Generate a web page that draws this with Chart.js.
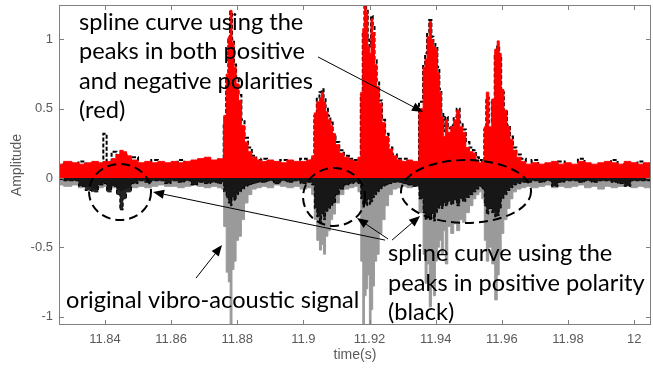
<!DOCTYPE html>
<html>
<head>
<meta charset="utf-8">
<script src="https://cdn.jsdelivr.net/npm/chart.js@4/dist/chart.umd.min.js"></script>
<style>
  html, body { margin: 0; padding: 0; background: #fff; }
</style>
</head>
<body>
<canvas id="myChart" width="653" height="371"></canvas>
<script>
// sample times (s), denser around the bursts
const time = [
  11.826, 11.829, 11.831, 11.833, 11.835, 11.837, 11.839, 11.840, 11.841, 11.843, 11.844, 11.845, 11.846, 11.847,
  11.849, 11.851, 11.853, 11.855, 11.857, 11.859, 11.861, 11.863, 11.865, 11.867, 11.869, 11.871, 11.873, 11.875,
  11.8755, 11.8763, 11.8770, 11.8776, 11.8781, 11.8787, 11.8793, 11.8800, 11.8808, 11.8817, 11.8827, 11.8838, 11.8850, 11.8865,
  11.888, 11.890, 11.892, 11.894, 11.896, 11.898, 11.900, 11.902,
  11.9030, 11.9036, 11.9045, 11.9052, 11.9058, 11.9064, 11.9070, 11.9078, 11.9085, 11.9092, 11.9102, 11.9115, 11.9130, 11.9145, 11.9160,
  11.9170, 11.9177, 11.9182, 11.9187, 11.9192, 11.9197, 11.9202, 11.9207, 11.9212, 11.9218, 11.9225, 11.9233, 11.9242, 11.9252, 11.9263, 11.9275, 11.9290,
  11.9305, 11.9320, 11.9340,
  11.9359, 11.9365, 11.9371, 11.9377, 11.9384, 11.9390, 11.9396, 11.9402, 11.9408, 11.9414,
  11.9420, 11.9426, 11.9432, 11.9441, 11.9450, 11.9459, 11.9468, 11.9477, 11.9486, 11.9496,
  11.9508, 11.9517, 11.9526, 11.9535, 11.9544, 11.9550, 11.9556, 11.9565, 11.9574, 11.9583,
  11.9589, 11.9595, 11.9601, 11.9611, 11.9620, 11.9629, 11.9638, 11.9650, 11.9665,
  11.968, 11.970, 11.972, 11.974, 11.976, 11.978, 11.980, 11.982, 11.984, 11.986,
  11.988, 11.990, 11.992, 11.994, 11.996, 11.998, 12.000, 12.002, 12.004, 12.006
];
// red: spline through peaks of both polarities
const redEnv = [
  0.10, 0.12, 0.11, 0.10, 0.11, 0.12, 0.11, 0.12, 0.12, 0.14, 0.17, 0.20, 0.19, 0.16,
  0.13, 0.11, 0.12, 0.11, 0.12, 0.11, 0.12, 0.11, 0.12, 0.13, 0.14, 0.15, 0.13, 0.14,
  0.14, 0.45, 0.75, 1.02, 1.21, 0.98, 0.80, 0.68, 0.56, 0.38, 0.26, 0.19, 0.15, 0.13,
  0.12, 0.13, 0.12, 0.11, 0.13, 0.12, 0.12, 0.13,
  0.16, 0.47, 0.55, 0.58, 0.62, 0.55, 0.48, 0.42, 0.38, 0.32, 0.24, 0.18, 0.15, 0.13, 0.12,
  0.15, 0.62, 1.08, 1.26, 1.20, 0.95, 0.90, 1.15, 1.05, 0.82, 0.66, 0.54, 0.40, 0.30, 0.21, 0.16, 0.13,
  0.12, 0.13, 0.12,
  0.50, 0.80, 0.86, 1.02, 1.13, 1.00, 0.95, 0.93, 0.76, 0.62,
  0.44, 0.30, 0.42, 0.33, 0.37, 0.42, 0.49, 0.37, 0.33, 0.22,
  0.19, 0.18, 0.13, 0.11, 0.12, 0.37, 0.62, 0.37, 0.57, 0.93,
  0.99, 0.90, 0.64, 0.49, 0.37, 0.28, 0.20, 0.15, 0.12,
  0.10, 0.11, 0.10, 0.11, 0.12, 0.10, 0.11, 0.10, 0.12, 0.11,
  0.10, 0.11, 0.12, 0.11, 0.10, 0.12, 0.11, 0.10, 0.11, 0.10
];
// gray: original vibro-acoustic signal (negative side visible)
const graySig = [
  -0.05, -0.06, -0.05, -0.07, -0.06, -0.08, -0.07, -0.06, -0.08, -0.07, -0.08, -0.09, -0.08, -0.07,
  -0.07, -0.06, -0.07, -0.06, -0.05, -0.06, -0.06, -0.07, -0.06, -0.05, -0.06, -0.07, -0.06, -0.07,
  -0.08, -0.35, -0.68, -0.75, -1.10, -0.66, -0.60, -0.45, -0.42, -0.30, -0.18, -0.12, -0.08, -0.07,
  -0.06, -0.07, -0.05, -0.06, -0.07, -0.06, -0.08, -0.07,
  -0.12, -0.30, -0.45, -0.52, -0.48, -0.55, -0.42, -0.38, -0.30, -0.26, -0.18, -0.12, -0.08, -0.07, -0.06,
  -0.10, -0.60, -1.10, -0.85, -0.80, -0.70, -1.10, -0.95, -0.78, -0.60, -0.55, -0.40, -0.30, -0.20, -0.12, -0.08, -0.07,
  -0.06, -0.07, -0.06,
  -0.25, -0.55, -0.76, -0.62, -0.93, -0.75, -0.85, -0.60, -0.50, -0.45,
  -0.55, -0.38, -0.62, -0.35, -0.40, -0.33, -0.38, -0.30, -0.32, -0.25,
  -0.20, -0.15, -0.12, -0.10, -0.15, -0.45, -0.60, -0.50, -0.62, -0.88,
  -0.70, -0.55, -0.40, -0.30, -0.22, -0.15, -0.10, -0.08, -0.07,
  -0.06, -0.07, -0.06, -0.05, -0.07, -0.06, -0.07, -0.06, -0.05, -0.07,
  -0.06, -0.08, -0.06, -0.07, -0.06, -0.05, -0.07, -0.06, -0.07, -0.06
];
// black: spline through positive peaks, upper edge
const blackTop = [
  0.08, 0.10, 0.09, 0.12, 0.09, 0.10, 0.09, 0.32, 0.10, 0.19, 0.15, 0.18, 0.17, 0.14,
  0.15, 0.09, 0.10, 0.13, 0.10, 0.09, 0.10, 0.13, 0.10, 0.11, 0.12, 0.13, 0.11, 0.12,
  0.12, 0.40, 0.72, 1.00, 1.20, 1.00, 0.82, 0.72, 0.60, 0.42, 0.29, 0.22, 0.16, 0.13,
  0.14, 0.11, 0.10, 0.13, 0.11, 0.10, 0.14, 0.11,
  0.14, 0.45, 0.58, 0.62, 0.64, 0.58, 0.50, 0.45, 0.40, 0.30, 0.26, 0.20, 0.16, 0.14, 0.13,
  0.13, 0.60, 1.05, 1.25, 1.22, 1.00, 0.95, 1.17, 1.10, 0.85, 0.70, 0.56, 0.42, 0.32, 0.22, 0.17, 0.14,
  0.14, 0.11, 0.10,
  0.55, 0.82, 0.90, 1.05, 1.14, 1.02, 0.98, 0.95, 0.80, 0.64,
  0.47, 0.34, 0.44, 0.36, 0.38, 0.44, 0.50, 0.40, 0.35, 0.26,
  0.22, 0.20, 0.15, 0.13, 0.12, 0.35, 0.58, 0.40, 0.55, 0.88,
  0.95, 0.88, 0.62, 0.48, 0.38, 0.30, 0.22, 0.17, 0.14,
  0.08, 0.13, 0.08, 0.09, 0.10, 0.12, 0.09, 0.08, 0.14, 0.09,
  0.08, 0.09, 0.10, 0.13, 0.08, 0.10, 0.09, 0.12, 0.09, 0.08
];
// black: same spline, undershoot below zero
const blackLow = [
  -0.01, -0.02, -0.02, -0.06, -0.09, -0.10, -0.05, -0.04, -0.10, -0.06, -0.12, -0.23, -0.15, -0.10,
  -0.04, -0.02, -0.03, -0.02, -0.02, -0.04, -0.02, -0.03, -0.02, -0.05, -0.03, -0.04, -0.03, -0.04,
  -0.03, -0.10, -0.14, -0.18, -0.20, -0.14, -0.16, -0.12, -0.10, -0.08, -0.06, -0.05, -0.04, -0.03,
  -0.03, -0.02, -0.04, -0.02, -0.03, -0.02, -0.04, -0.03,
  -0.05, -0.22, -0.28, -0.33, -0.26, -0.30, -0.24, -0.22, -0.20, -0.18, -0.12, -0.08, -0.05, -0.04, -0.03,
  -0.04, -0.15, -0.21, -0.18, -0.20, -0.15, -0.19, -0.17, -0.14, -0.12, -0.10, -0.08, -0.06, -0.05, -0.04, -0.03, -0.03,
  -0.04, -0.05, -0.06,
  -0.15, -0.25, -0.30, -0.28, -0.30, -0.26, -0.31, -0.25, -0.22, -0.20,
  -0.22, -0.18, -0.20, -0.17, -0.19, -0.16, -0.20, -0.15, -0.17, -0.14,
  -0.12, -0.10, -0.08, -0.06, -0.08, -0.20, -0.26, -0.22, -0.25, -0.28,
  -0.27, -0.22, -0.15, -0.12, -0.09, -0.07, -0.05, -0.04, -0.03,
  -0.03, -0.02, -0.03, -0.02, -0.06, -0.03, -0.02, -0.02, -0.03, -0.02,
  -0.03, -0.02, -0.02, -0.03, -0.04, -0.06, -0.02, -0.02, -0.02, -0.02
];

const xTicks = [11.84, 11.86, 11.88, 11.9, 11.92, 11.94, 11.96, 11.98, 12];
const xTickLabels = ["11.84", "11.86", "11.88", "11.9", "11.92", "11.94", "11.96", "11.98", "12"];
const yTicks = [-1, -0.5, 0, 0.5, 1];
const yTickLabels = ["-1", "-0.5", "0", "0.5", "1"];

// annotation text blocks and their anchors (time, amplitude)
const noteRed = ["spline curve using the", "peaks in both positive", "and negative polarities", "(red)"];
const noteGray = ["original vibro-acoustic signal"];
const noteBlack = ["spline curve using the", "peaks in positive polarity", "(black)"];
const noteAnchors = [[11.83215, 1.069], [11.82822, -0.939], [11.92559, -0.599]];
// arrows: [tailT, tailA, tipT, tipA]
const arrows = [
  [11.90442, 0.874, 11.93617, 0.477],
  [11.92468, -0.448, 11.85452, -0.101],
  [11.92559, -0.440, 11.91621, -0.289],
  [11.92680, -0.448, 11.93527, -0.274],
  [11.86753, -0.722, 11.87539, -0.484]
];
// dashed ellipses: [centerT, centerA, radiusT, radiusA]
const rings = [
  [11.84455, -0.101, 0.00937, 0.202],
  [11.90926, -0.137, 0.00937, 0.209],
  [11.94917, -0.097, 0.01966, 0.227]
];

const pts = (vals) => time.map((t, i) => ({ x: t, y: vals[i] }));

const frameAndNotes = {
  id: "frameAndNotes",
  afterDraw(chart) {
    const { ctx, chartArea: a, scales: { x, y } } = chart;
    ctx.save();
    // box + inward ticks, matlab style
    ctx.strokeStyle = "#808080";
    ctx.lineWidth = 1;
    ctx.setLineDash([]);
    ctx.strokeRect(a.left + 0.5, a.top + 0.5, a.right - a.left - 1, a.bottom - a.top - 1);
    ctx.beginPath();
    xTicks.forEach((v) => {
      const px = Math.round(x.getPixelForValue(v)) + 0.5;
      ctx.moveTo(px, a.bottom); ctx.lineTo(px, a.bottom - 5);
      ctx.moveTo(px, a.top); ctx.lineTo(px, a.top + 5);
    });
    yTicks.forEach((v) => {
      const py = Math.round(y.getPixelForValue(v)) + 0.5;
      ctx.moveTo(a.left, py); ctx.lineTo(a.left + 5, py);
      ctx.moveTo(a.right, py); ctx.lineTo(a.right - 5, py);
    });
    ctx.stroke();

    // dashed ellipses
    ctx.strokeStyle = "#000";
    ctx.lineWidth = 2;
    ctx.setLineDash([9, 5]);
    rings.forEach(([t, v, rt, rv]) => {
      const cx = x.getPixelForValue(t), cy = y.getPixelForValue(v);
      const rx = x.getPixelForValue(t + rt) - cx, ry = cy - y.getPixelForValue(v + rv);
      ctx.beginPath();
      ctx.ellipse(cx, cy, rx, ry, 0, 0, Math.PI * 2);
      ctx.stroke();
    });
    ctx.setLineDash([]);

    // arrows
    ctx.lineWidth = 1;
    ctx.fillStyle = "#000";
    arrows.forEach(([t0, v0, t1, v1]) => {
      const x0 = x.getPixelForValue(t0), y0 = y.getPixelForValue(v0);
      const x1 = x.getPixelForValue(t1), y1 = y.getPixelForValue(v1);
      const ang = Math.atan2(y1 - y0, x1 - x0);
      const len = 11, half = 4.5;
      const bx = x1 - len * Math.cos(ang), by = y1 - len * Math.sin(ang);
      ctx.beginPath();
      ctx.moveTo(x0, y0); ctx.lineTo(bx, by);
      ctx.stroke();
      ctx.beginPath();
      ctx.moveTo(x1, y1);
      ctx.lineTo(bx + half * Math.sin(ang), by - half * Math.cos(ang));
      ctx.lineTo(bx - half * Math.sin(ang), by + half * Math.cos(ang));
      ctx.closePath();
      ctx.fill();
    });

    // annotation text, sized so the first red line spans ~224px
    ctx.font = "100px Lato";
    const size = 100 * 224 / ctx.measureText(noteRed[0]).width;
    ctx.font = size.toFixed(1) + "px Lato";
    ctx.textAlign = "left";
    ctx.textBaseline = "alphabetic";
    const lineH = 29.5;
    [noteRed, noteGray, noteBlack].forEach((lines, k) => {
      const px = x.getPixelForValue(noteAnchors[k][0]);
      const py = y.getPixelForValue(noteAnchors[k][1]);
      lines.forEach((s, i) => ctx.fillText(s, px, py + i * lineH));
    });
    ctx.restore();
  }
};

const tickFont = { family: "'Liberation Sans', Arial, sans-serif", size: 13 };
const titleFont = { family: "'Liberation Sans', Arial, sans-serif", size: 14 };

const myChart = new Chart(document.getElementById("myChart"), {
  type: "line",
  data: {
    datasets: [
      {
        label: "red",
        data: pts(redEnv),
        stepped: "middle",
        borderColor: "rgb(255, 0, 0)",
        backgroundColor: "rgb(255, 0, 0)",
        borderWidth: 1,
        fill: "origin",
        pointRadius: 0,
        order: 2,
      },
      {
        label: "black",
        data: pts(blackTop),
        stepped: "middle",
        borderColor: "#000",
        borderWidth: 2,
        borderDash: [4, 2],
        fill: false,
        pointRadius: 0,
        order: 3,
      },
      {
        label: "black low",
        data: pts(blackLow),
        stepped: "middle",
        borderColor: "#000",
        backgroundColor: "rgba(0, 0, 0, 0.85)",
        borderWidth: 1,
        borderDash: [4, 2],
        fill: "origin",
        pointRadius: 0,
        order: 4,
      },
      {
        label: "original",
        data: pts(graySig),
        stepped: "middle",
        borderColor: "#9a9a9a",
        backgroundColor: "#9a9a9a",
        borderWidth: 1,
        fill: "origin",
        pointRadius: 0,
        order: 5,
      },
    ],
  },
  options: {
    responsive: false,
    animation: false,
    devicePixelRatio: 1,
    layout: { padding: { top: 5, right: 2, left: 0, bottom: 0 } },
    plugins: { legend: { display: false }, tooltip: { enabled: false } },
    scales: {
      x: {
        type: "linear",
        min: 11.8261,
        max: 12.0051,
        grid: { display: false, drawTicks: false },
        border: { display: false },
        ticks: {
          autoSkip: false, maxRotation: 0, padding: 7,
          color: "#5a5a5a", font: tickFont,
          callback: (v, i) => xTickLabels[i],
        },
        afterBuildTicks: (s) => { s.ticks = xTicks.map((v) => ({ value: v })); },
        afterFit: (s) => { s.height = 46; s.paddingLeft = 0; s.paddingRight = 0; },
        title: { display: true, text: "time(s)", color: "#5a5a5a", font: titleFont, padding: { top: 0, bottom: 7 } },
      },
      y: {
        type: "linear",
        min: -1.061,
        max: 1.249,
        grid: { display: false, drawTicks: false },
        border: { display: false },
        ticks: {
          autoSkip: false, padding: 6,
          color: "#5a5a5a", font: tickFont,
          callback: (v, i) => yTickLabels[i],
        },
        afterBuildTicks: (s) => { s.ticks = yTicks.map((v) => ({ value: v })); },
        afterFit: (s) => { s.width = 59; s.paddingTop = 0; s.paddingBottom = 0; },
        title: { display: true, text: "Amplitude", color: "#5a5a5a", font: titleFont, padding: { top: 9, bottom: 0 } },
      },
    },
  },
  plugins: [frameAndNotes],
});
</script>
</body>
</html>
